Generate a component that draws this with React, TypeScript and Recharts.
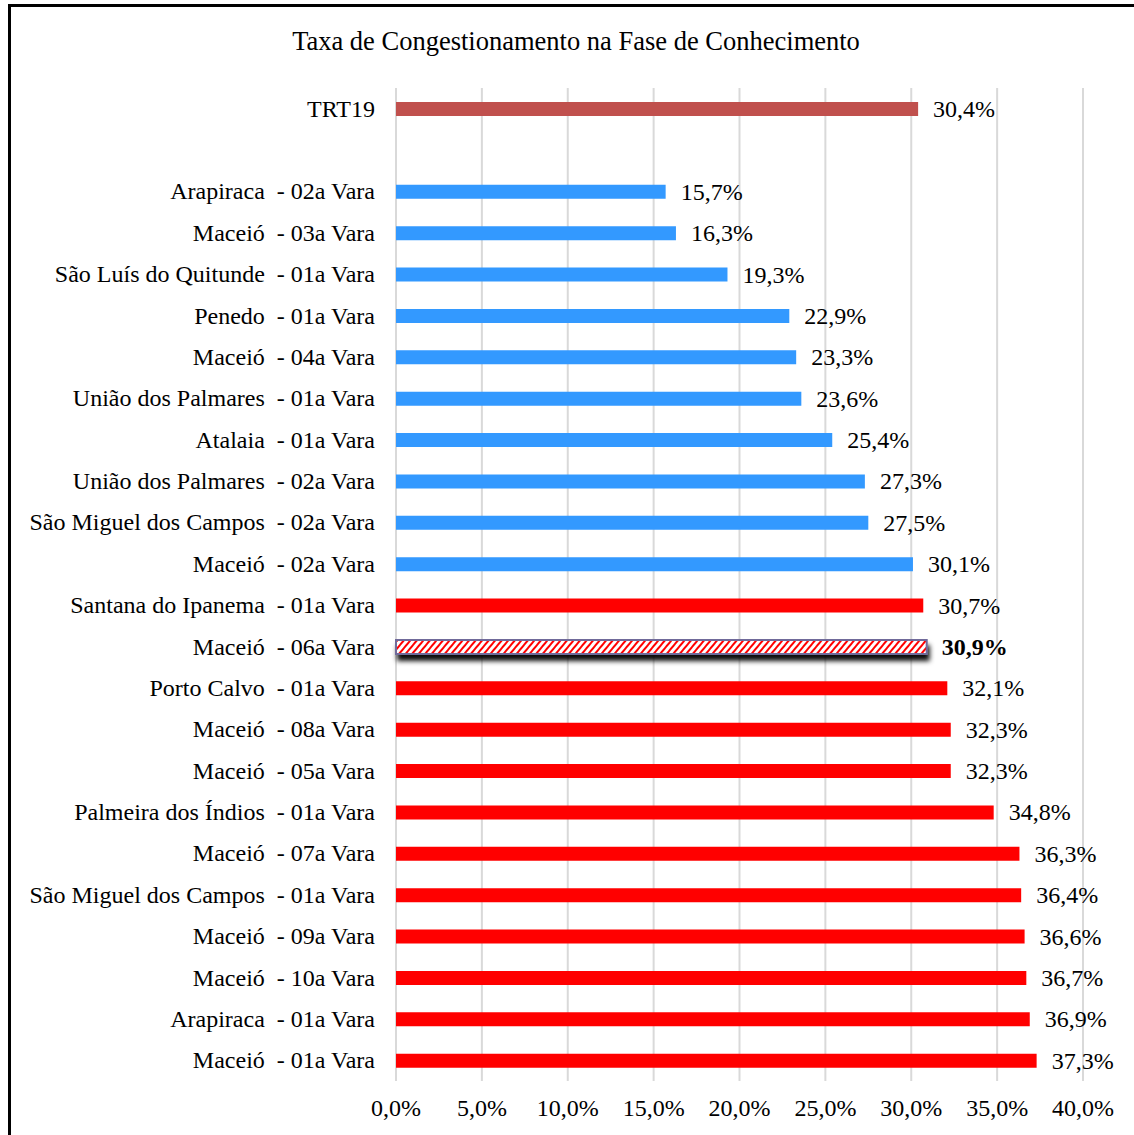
import React from 'react';
import { BarChart, Bar, XAxis, YAxis, CartesianGrid, Cell, LabelList } from 'recharts';

const categories = [
    'TRT19',
    ' ',
    'Arapiraca  - 02a Vara',
    'Maceió  - 03a Vara',
    'São Luís do Quitunde  - 01a Vara',
    'Penedo  - 01a Vara',
    'Maceió  - 04a Vara',
    'União dos Palmares  - 01a Vara',
    'Atalaia  - 01a Vara',
    'União dos Palmares  - 02a Vara',
    'São Miguel dos Campos  - 02a Vara',
    'Maceió  - 02a Vara',
    'Santana do Ipanema  - 01a Vara',
    'Maceió  - 06a Vara',
    'Porto Calvo  - 01a Vara',
    'Maceió  - 08a Vara',
    'Maceió  - 05a Vara',
    'Palmeira dos Índios  - 01a Vara',
    'Maceió  - 07a Vara',
    'São Miguel dos Campos  - 01a Vara',
    'Maceió  - 09a Vara',
    'Maceió  - 10a Vara',
    'Arapiraca  - 01a Vara',
    'Maceió  - 01a Vara',
];

const taxa: (number | null)[] = [
    30.4, null, 15.7, 16.3, 19.3, 22.9, 23.3, 23.6, 25.4, 27.3, 27.5, 30.1,
    30.7, 30.9, 32.1, 32.3, 32.3, 34.8, 36.3, 36.4, 36.6, 36.7, 36.9, 37.3,
];

// grupo: t = tribunal, b = abaixo da média, r = acima, d = vara em destaque
const grupo = ['t', '', 'b', 'b', 'b', 'b', 'b', 'b', 'b', 'b', 'b', 'b',
    'r', 'd', 'r', 'r', 'r', 'r', 'r', 'r', 'r', 'r', 'r', 'r'];

const xTicks = [0, 5, 10, 15, 20, 25, 30, 35, 40];

const cores: Record<string, string> = {
    t: '#C0504D',
    b: '#3399FF',
    r: '#FF0000',
    d: 'url(#hachura)',
};

const FONT = '"Liberation Serif", "Times New Roman", serif';

const data = categories.map((name, i) => ({ name, value: taxa[i], grupo: grupo[i] }));

// o LabelList só recebe as barras com valor
const gruposComValor = data.filter(d => d.value != null).map(d => d.grupo);

const fmt = (v: number) => v.toFixed(1).replace('.', ',') + '%';

// eslint-disable-next-line @typescript-eslint/no-explicit-any
const YTick = ({ x, y, payload }: any) => (
    <text x={x} y={y} dx={-13} dy={8} textAnchor="end" fontFamily={FONT} fontSize={24} fill="#000" style={{ whiteSpace: 'pre' }}>
        {payload.value}
    </text>
);

// eslint-disable-next-line @typescript-eslint/no-explicit-any
const XTick = ({ x, y, payload }: any) => (
    <text x={x} y={y} dy={27} textAnchor="middle" fontFamily={FONT} fontSize={24} fill="#000">
        {fmt(payload.value)}
    </text>
);

// eslint-disable-next-line @typescript-eslint/no-explicit-any
const ValorLabel = ({ x, y, width, height, value, index }: any) => {
    if (value == null) return null;
    const destaque = gruposComValor[index] === 'd';
    return (
        <text x={x + width + 15} y={y + height / 2} dy={8} fontFamily={FONT} fontSize={24}
            fontWeight={destaque ? 'bold' : 'normal'} fill="#000">
            {fmt(value)}
        </text>
    );
};

const App = () => {
    return (
        <div style={{ position: 'absolute', left: 0, top: 0, width: 1134, height: 1135, background: '#fff', overflow: 'hidden' }}>
            <div style={{ position: 'absolute', left: 8, top: 4, right: -10, bottom: -10, borderLeft: '3px solid #000', borderTop: '3px solid #000' }} />
            <div style={{ position: 'absolute', left: 0, width: 1152, top: 26, textAlign: 'center', fontFamily: FONT, fontSize: 26.5, color: '#000', whiteSpace: 'nowrap' }}>
                Taxa de Congestionamento na Fase de Conhecimento
            </div>
            <div style={{ position: 'absolute', left: 0, top: 0 }}>
                <BarChart width={1134} height={1135} data={data} layout="vertical"
                    margin={{ top: 88, right: 51, bottom: 0, left: 0 }} barSize={14}>
                    <defs>
                        <pattern id="hachura" patternUnits="userSpaceOnUse" width="5" height="5" patternTransform="rotate(40)">
                            <rect width="5" height="5" fill="#fff" />
                            <rect width="2" height="5" fill="#FF0000" />
                        </pattern>
                        <filter id="sombra" x="-5%" y="-100%" width="110%" height="300%">
                            <feDropShadow dx="2" dy="6" stdDeviation="2.5" floodColor="#000" floodOpacity="0.95" />
                        </filter>
                    </defs>
                    <CartesianGrid horizontal={false} stroke="#D9D9D9" strokeWidth={2} />
                    <XAxis type="number" domain={[0, 40]} ticks={xTicks} axisLine={false} tickLine={false}
                        height={54} tick={<XTick />} interval={0} />
                    <YAxis type="category" dataKey="name" width={396} axisLine={false} tickLine={false}
                        tick={<YTick />} interval={0} />
                    <Bar dataKey="value" isAnimationActive={false}>
                        {data.map((d, i) => (
                            <Cell key={`cell-${i}`} fill={cores[d.grupo] || '#fff'}
                                stroke={d.grupo === 'd' ? '#6F6A9A' : 'none'}
                                strokeWidth={d.grupo === 'd' ? 2 : 0}
                                filter={d.grupo === 'd' ? 'url(#sombra)' : undefined} />
                        ))}
                        <LabelList dataKey="value" content={<ValorLabel />} />
                    </Bar>
                </BarChart>
            </div>
        </div>
    );
};

export default App;
